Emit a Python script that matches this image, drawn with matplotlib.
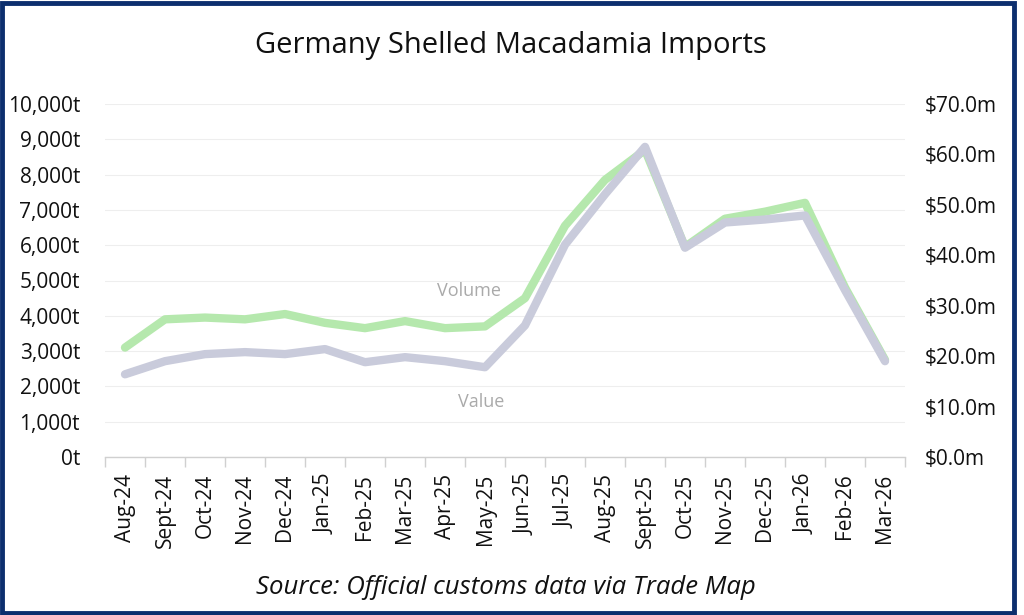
import matplotlib
matplotlib.use("Agg")
import matplotlib.pyplot as plt
from matplotlib.patches import Rectangle
from matplotlib.ticker import FuncFormatter, MultipleLocator

plt.rcParams['font.family'] = ['Open Sans', 'DejaVu Sans']

months = ["Aug-24", "Sept-24", "Oct-24", "Nov-24", "Dec-24", "Jan-25", "Feb-25",
          "Mar-25", "Apr-25", "May-25", "Jun-25", "Jul-25", "Aug-25", "Sept-25",
          "Oct-25", "Nov-25", "Dec-25", "Jan-26", "Feb-26", "Mar-26"]
volume_t = [3100, 3900, 3950, 3900, 4050, 3800, 3650, 3850, 3650, 3700,
            4500, 6550, 7850, 8700, 5950, 6750, 6950, 7200, 4800, 2750]
value_m = [16.4, 19.0, 20.4, 20.8, 20.4, 21.4, 18.8, 19.8, 19.0, 17.8,
           26.1, 42.1, 52.1, 61.5, 41.5, 46.5, 47.1, 47.9, 33.1, 19.0]

title = "Germany Shelled Macadamia Imports"
source = "Source: Official customs data via Trade Map"

fig = plt.figure(figsize=(10.24, 6.15), dpi=100)
fig.patch.set_facecolor('white')

ax = fig.add_axes([105/1024, 1-457/615, 800/1024, (457-104)/615])
ax2 = ax.twinx()

x = list(range(len(months)))
ax.plot(x, volume_t, color='#b5e8ad', lw=6, solid_capstyle='round', zorder=3)
ax2.plot(x, value_m, color='#c9cbdb', lw=6, solid_capstyle='round', zorder=2)

ax.set_xlim(-0.5, len(months) - 0.5)
ax.set_ylim(0, 10000)
ax2.set_ylim(0, 70)
ax.yaxis.set_major_locator(MultipleLocator(1000))
ax2.yaxis.set_major_locator(MultipleLocator(10))
ax.yaxis.set_major_formatter(FuncFormatter(lambda v, p: f"{v:,.0f}t"))
ax2.yaxis.set_major_formatter(FuncFormatter(lambda v, p: f"${v:.1f}m"))

ax.grid(axis='y', color='#eeeeee', lw=0.8)
ax.set_axisbelow(True)

for a in (ax, ax2):
    for s in a.spines.values():
        s.set_visible(False)
ax.spines['bottom'].set_visible(True)
ax.spines['bottom'].set_color('#d0d0d0')
ax.spines['bottom'].set_linewidth(1)

ax.set_xticks(x)
ax.set_xticklabels(months, rotation=90, fontsize=15, color='#111111')
ax.set_xticks([i - 0.5 for i in range(len(months) + 1)], minor=True)
ax.tick_params(axis='x', which='major', length=0, pad=12)
ax.tick_params(axis='x', which='minor', length=7, color='#d0d0d0', width=1)
ax.tick_params(axis='y', length=0, labelsize=15, colors='#111111', pad=18)
ax2.tick_params(axis='y', length=0, labelsize=15, colors='#111111', pad=14)

ax.text(8.6, 4700, "Volume", fontsize=13, color='#aaaaaa', ha='center', va='center')
ax2.text(8.9, 10.9, "Value", fontsize=13, color='#aaaaaa', ha='center', va='center')

fig.text(511/1024, 1-45/615, title, fontsize=21, ha='center', va='center', color='#111111')
fig.text(506/1024, 1-587/615, source, fontsize=18.5, style='italic', ha='center',
         va='center', color='#111111')

fig.patches.append(Rectangle((2/1024, 2/615), 1012/1024, 610/615, transform=fig.transFigure,
                             fill=False, edgecolor='#0c2f6e', lw=3.5, zorder=10))

fig.savefig("out.png", dpi=100, facecolor='white')
